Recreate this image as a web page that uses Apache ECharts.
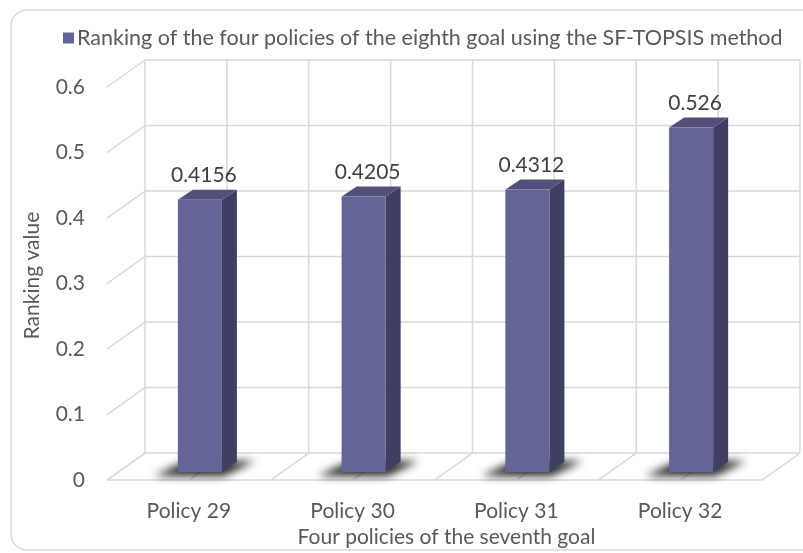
<!DOCTYPE html>
<html>
<head>
<meta charset="utf-8">
<script src="https://cdn.jsdelivr.net/npm/echarts@6/dist/echarts.min.js"></script>
<style>html,body{margin:0;padding:0;background:#fff}#c{width:803px;height:553px}</style>
</head>
<body>
<div id="c"></div>
<script>
const categories = ['Policy 29', 'Policy 30', 'Policy 31', 'Policy 32'];
const values = [0.4156, 0.4205, 0.4312, 0.526];
const seriesName = 'Ranking of the four policies of the eighth goal using the SF-TOPSIS method';
const xAxisName = 'Four policies of the seventh goal';
const yAxisName = 'Ranking value';
const yMin = 0, yMax = 0.6, yStep = 0.1;

const FONT = 'Lato, "Open Sans", sans-serif';
const FS = 21;
const TXT = '#595959';
const GRID = '#d9d9d9';
const DX = 38, DY = -27;          // depth of the floor
const BX = 11, BY = -8;           // bar front plane offset
const BDX = 15, BDY = -10;        // bar depth
const FACE = '#646496', SIDE = '#3f3f61', TOP = '#50507a';
const OFF = 3000;

const chart = echarts.init(document.getElementById('c'), null, {renderer: 'canvas'});

function wallsRender(params, api) {
  if (params.dataIndex !== 0) return;
  const w = api.size([1, 0])[0];
  const c0 = api.coord([0, 0]);
  const x0 = c0[0] - w / 2;
  const y0 = c0[1];
  const n = categories.length;
  const ch = [];
  const ln = (x1, y1, x2, y2) => ch.push({type: 'line', shape: {x1, y1, x2, y2}, style: {stroke: GRID, lineWidth: 1.5}});
  const ticks = [];
  for (let v = yMin; v <= yMax + 1e-9; v += yStep) ticks.push(+v.toFixed(3));
  ticks.forEach(v => {
    const y = api.coord([0, v])[1];
    ln(x0 + DX, y + DY, x0 + DX + n * w, y + DY);
    ln(x0, y, x0 + DX, y + DY);
  });
  const yTop = api.coord([0, yMax])[1];
  for (let k = 0; k <= n * 2; k++) {
    const x = x0 + k * w / 2;
    ln(x + DX, y0 + DY, x + DX, yTop + DY);
    ln(x, y0, x + DX, y0 + DY);
  }
  ln(x0, y0, x0 + n * w, y0);
  return {type: 'group', children: ch};
}

function barRender(params, api) {
  const i = api.value(0), v = api.value(1);
  const w = api.size([1, 0])[0];
  const bw = w * 0.269;
  const top = api.coord([i, v]);
  const base = api.coord([i, 0]);
  const cx = top[0] + BX;
  const xl = cx - bw / 2, xr = cx + bw / 2;
  const yt = top[1] + BY, yb = base[1] + BY;
  const sh = [[xl - 24, yb + 4], [xr + 2, yb + 4], [xr + BDX + 18, yb + BDY - 1], [xl + BDX - 6, yb + BDY - 1]]
    .map(p => [p[0] - OFF, p[1]]);
  return {
    type: 'group',
    children: [
      {type: 'polygon', shape: {points: sh},
        style: {fill: '#000', shadowBlur: 9, shadowOffsetX: OFF, shadowColor: 'rgba(0,0,0,0.85)'}},
      {type: 'polygon', shape: {points: [[xr, yt], [xr + BDX, yt + BDY], [xr + BDX, yb + BDY], [xr, yb]]}, style: {fill: SIDE}},
      {type: 'polygon', shape: {points: [[xl, yt], [xl + BDX, yt + BDY], [xr + BDX, yt + BDY], [xr, yt]]}, style: {fill: TOP}},
      {type: 'rect', shape: {x: xl, y: yt, width: bw, height: yb - yt}, style: {fill: FACE}},
      {type: 'text', style: {text: String(v), x: cx + 4, y: yt + BDY - 4, align: 'center', verticalAlign: 'bottom',
        fill: '#404040', fontSize: FS, fontFamily: FONT}}
    ]
  };
}

chart.setOption({
  animation: false,
  backgroundColor: '#fff',
  textStyle: {fontFamily: FONT},
  graphic: [{type: 'rect', shape: {x: 11, y: 10, width: 820, height: 540, r: 16},
    style: {fill: 'none', stroke: '#d9d9d9', lineWidth: 1.5}, z: -10}],
  legend: {
    left: 58, top: 22, itemWidth: 11, itemHeight: 11, itemGap: 4,
    data: [{name: seriesName, icon: 'rect'}],
    textStyle: {color: TXT, fontSize: 21.5, fontFamily: FONT, padding: [0, 0, 0, -2]}
  },
  grid: {left: 107, right: 41, top: 87, bottom: 64, containLabel: false},
  xAxis: {
    type: 'category', data: categories,
    axisLine: {show: false}, axisTick: {show: false}, splitLine: {show: false},
    axisLabel: {color: TXT, fontSize: FS, fontFamily: FONT, margin: 21},
    name: xAxisName, nameLocation: 'middle', nameGap: 40,
    nameTextStyle: {color: TXT, fontSize: FS, fontFamily: FONT, padding: [0, 0, 0, 24]}
  },
  yAxis: {
    type: 'value', min: yMin, max: yMax, interval: yStep,
    axisLine: {show: false}, axisTick: {show: false}, splitLine: {show: false},
    axisLabel: {color: TXT, fontSize: FS, fontFamily: FONT, margin: 22},
    name: yAxisName, nameLocation: 'middle', nameGap: 64, nameRotate: 90,
    nameTextStyle: {color: TXT, fontSize: FS, fontFamily: FONT, padding: [0, 0, 0, 16]}
  },
  series: [
    {type: 'custom', name: '__walls', renderItem: wallsRender, data: [[0, 0]], z: 1, silent: true},
    {type: 'custom', name: seriesName, renderItem: barRender, itemStyle: {color: FACE}, z: 2,
      data: values.map((v, i) => [i, v]), encode: {x: 0, y: 1}}
  ]
});
</script>
</body>
</html>
